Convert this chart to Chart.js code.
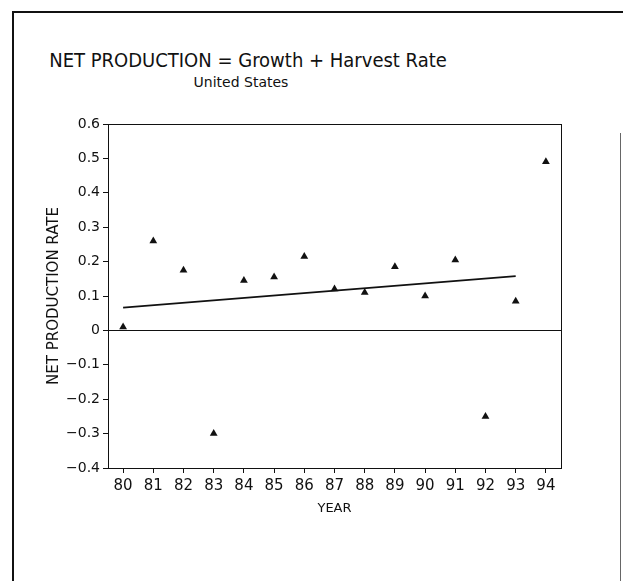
<!DOCTYPE html>
<html>
<head>
<meta charset="utf-8">
<script src="https://cdn.jsdelivr.net/npm/chart.js@4.4.1/dist/chart.umd.min.js"></script>
<style>
  html, body { margin: 0; padding: 0; background: #fff; }
  body { width: 623px; height: 581px; position: relative; overflow: hidden;
         font-family: "DejaVu Sans", sans-serif; color: #111; }
  #frame { position: absolute; left: 12px; top: 11px; width: 640px; height: 600px;
           border-top: 2px solid #111; border-left: 2px solid #111; }
  #frame-right { position: absolute; left: 620px; top: 133px; height: 460px; border-left: 1px solid #666; }
  #title { position: absolute; left: -2px; top: 47px; width: 500px; text-align: center; white-space: nowrap;
           font-family: "DejaVu Sans Condensed", "DejaVu Sans", sans-serif; font-size: 20px; line-height: 26px; }
  #subtitle { position: absolute; left: 141px; top: 73px; width: 200px; text-align: center; white-space: nowrap;
              font-size: 14px; line-height: 18px; }
  #chart-wrap { position: absolute; left: 0; top: 0; width: 623px; height: 581px; }
</style>
</head>
<body>
<div id="frame"></div>
<div id="frame-right"></div>
<div id="title">NET PRODUCTION = Growth + Harvest Rate</div>
<div id="subtitle">United States</div>
<div id="chart-wrap"><canvas id="scatter-chart" width="623" height="581"></canvas></div>
<script>
'use strict';
//Data
const years = [80, 81, 82, 83, 84, 85, 86, 87, 88, 89, 90, 91, 92, 93, 94];
const netRate = [0.01, 0.26, 0.175, -0.30, 0.145, 0.155, 0.215, 0.12, 0.11, 0.185, 0.10, 0.205, -0.25, 0.085, 0.49];
const trendYears = [80, 93];
const trendRate = [0.066, 0.158];
const yTicks = [-0.4, -0.3, -0.2, -0.1, 0, 0.1, 0.2, 0.3, 0.4, 0.5, 0.6];

const fontFamily = '"DejaVu Sans", sans-serif';
const ink = '#111';

//Box round the plot area
const plotBox = {
  id: 'plotBox',
  afterDraw(chart) {
    const {ctx, chartArea: a} = chart;
    ctx.save();
    ctx.strokeStyle = ink;
    ctx.lineWidth = 1;
    ctx.strokeRect(a.left + 0.5, a.top + 0.5, a.right - a.left, a.bottom - a.top);
    ctx.restore();
  }
};

new Chart(document.getElementById('scatter-chart'), {
  type: 'scatter',
  data: {
    datasets: [
      {
        label: 'Net production rate',
        data: years.map((y, i) => ({x: y, y: netRate[i]})),
        pointStyle: 'triangle',
        pointRadius: 4.5,
        backgroundColor: ink,
        borderColor: ink,
        borderWidth: 0
      },
      {
        label: 'Trend',
        type: 'line',
        data: trendYears.map((y, i) => ({x: y, y: trendRate[i]})),
        borderColor: ink,
        borderWidth: 1.8,
        pointRadius: 0,
        fill: false
      }
    ]
  },
  options: {
    responsive: false,
    animation: false,
    layout: {padding: {left: 0, top: 124, right: 62, bottom: 53}},
    plugins: {
      legend: {display: false},
      tooltip: {enabled: false}
    },
    scales: {
      x: {
        type: 'linear',
        min: 79.5,
        max: 94.5,
        afterBuildTicks: s => { s.ticks = years.map(v => ({value: v})); },
        afterFit: s => { s.height = 60; },
        grid: {drawOnChartArea: false, tickLength: 5, tickColor: ink},
        border: {display: false},
        ticks: {
          color: ink,
          padding: 4,
          maxRotation: 0,
          autoSkip: false,
          font: {family: fontFamily, size: 15},
          callback: v => String(v)
        },
        title: {
          display: true,
          text: 'YEAR',
          color: ink,
          font: {family: fontFamily, size: 13},
          padding: {top: 0, bottom: 12}
        }
      },
      y: {
        min: -0.4,
        max: 0.6,
        afterBuildTicks: s => { s.ticks = yTicks.map(v => ({value: v})); },
        afterFit: s => { s.width = 108; },
        grid: {
          color: c => (c.tick && c.tick.value === 0 ? ink : 'rgba(0,0,0,0)'),
          lineWidth: 1,
          tickLength: 5,
          tickColor: ink
        },
        border: {display: false},
        ticks: {
          color: ink,
          padding: 3,
          font: {family: fontFamily, size: 14},
          callback: v => (v === 0 ? '0' : v.toFixed(1).replace('-', '\u2212'))
        },
        title: {
          display: true,
          text: 'NET PRODUCTION RATE',
          color: ink,
          font: {family: fontFamily, size: 15},
          padding: {top: 45, bottom: 0}
        }
      }
    }
  },
  plugins: [plotBox]
});
</script>
</body>
</html>
